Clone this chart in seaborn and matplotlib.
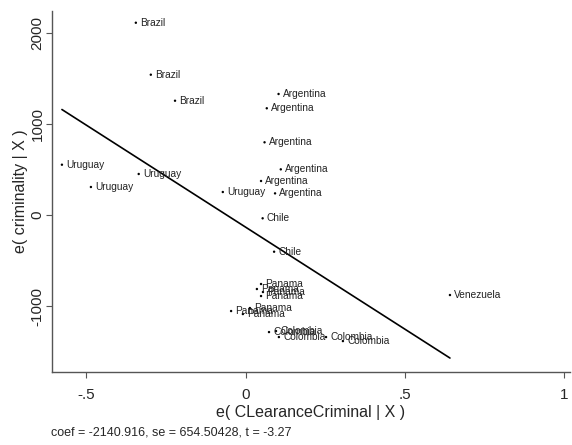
import matplotlib
matplotlib.use('Agg')
import matplotlib.pyplot as plt
import numpy as np
import pandas as pd
import seaborn as sns

# residuals
countries = ['Brazil', 'Brazil', 'Brazil',
             'Argentina', 'Argentina', 'Argentina', 'Argentina', 'Argentina', 'Argentina',
             'Uruguay', 'Uruguay', 'Uruguay', 'Uruguay',
             'Chile', 'Chile',
             'Venezuela',
             'Panama', 'Panama', 'Panama', 'Panama', 'Panama', 'Panama', 'Panama',
             'Colombia', 'Colombia', 'Colombia', 'Colombia', 'Colombia']
e_clearance = [-0.345, -0.298, -0.222,
               0.103, 0.066, 0.059, 0.110, 0.048, 0.092,
               -0.577, -0.486, -0.336, -0.072,
               0.053, 0.089,
               0.641,
               0.035, 0.048, 0.054, 0.048, -0.046, -0.009, 0.013,
               0.073, 0.095, 0.104, 0.252, 0.305]
e_crime = [2113, 1542, 1256,
           1330, 1173, 799, 502, 374, 238,
           553, 308, 451, 253,
           -36, -403,
           -879,
           -813, -758, -846, -890, -1055, -1088, -1022,
           -1286, -1275, -1341, -1341, -1385]
x_ticks = [-0.5, 0, 0.5, 1]
x_tick_labels = ['-.5', '0', '.5', '1']
y_ticks = [-1000, 0, 1000, 2000]
note = 'coef = -2140.916, se = 654.50428, t = -3.27'

df = pd.DataFrame({'country': countries, 'x': e_clearance, 'y': e_crime})

sns.set_style('white')
plt.rcParams['font.family'] = ['Liberation Sans', 'DejaVu Sans']

fig = plt.figure(figsize=(5.72, 4.45), dpi=100)
ax = fig.add_axes([0.091, 0.164, 0.9056, 0.8113])

sns.scatterplot(data=df, x='x', y='y', ax=ax, color='black', s=3,
                edgecolor='none', legend=False)
for _, r in df.iterrows():
    ax.annotate(r['country'], (r['x'], r['y']), xytext=(3, 0),
                textcoords='offset points', fontsize=7.3, va='center',
                color='#222222')

# least-squares line over the range of the residuals
sns.regplot(data=df, x='x', y='y', ax=ax, scatter=False, ci=None,
            truncate=True, line_kws={'color': 'black', 'lw': 1.2})

ax.set_xlim(-0.608, 1.018)
ax.set_ylim(-1725, 2242)
ax.set_xticks(x_ticks)
ax.set_xticklabels(x_tick_labels)
ax.set_yticks(y_ticks)
ax.set_yticklabels([str(v) for v in y_ticks], rotation=90, va='center')
ax.tick_params(axis='both', labelsize=11, length=4.5, width=0.8,
               color='#555555', direction='out', bottom=True, left=True)
ax.tick_params(axis='x', pad=7)
ax.tick_params(axis='y', pad=1)
ax.set_xlabel('e( CLearanceCriminal | X )', fontsize=11.5, labelpad=2)
ax.set_ylabel('e( criminality | X )', fontsize=11.5, labelpad=2)

for side in ['top', 'right']:
    ax.spines[side].set_visible(False)
for side in ['left', 'bottom']:
    ax.spines[side].set_color('#555555')
    ax.spines[side].set_linewidth(1.0)

fig.text(0.089, 0.029, note, fontsize=9, ha='left', va='center')

fig.savefig('out.png', dpi=100)
